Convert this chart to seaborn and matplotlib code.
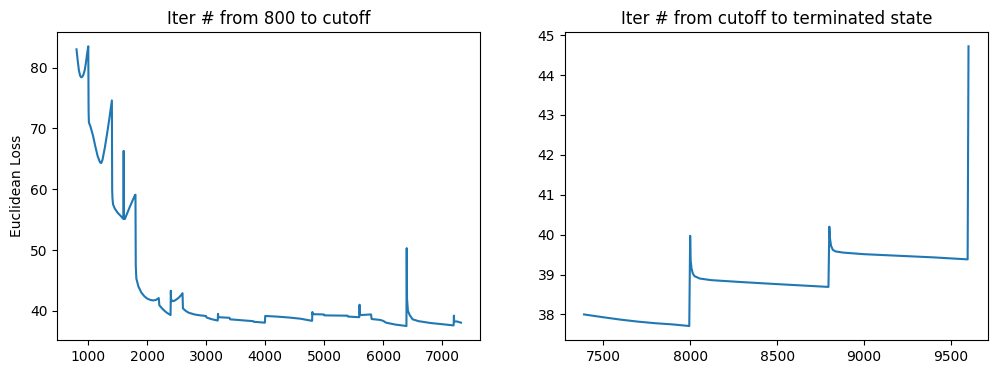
import matplotlib
matplotlib.use("Agg")
import matplotlib.pyplot as plt
import seaborn as sns
import pandas as pd

# Left panel: iterations 800 -> cutoff (breakpoints)
left_iter = [800, 820, 840, 860, 880, 900, 920, 940, 960, 980, 1000,
             1005, 1010, 1040, 1080, 1120, 1160, 1200, 1220, 1240, 1280, 1320, 1360, 1400,
             1405, 1410, 1420, 1450, 1500, 1550, 1595, 1600, 1605, 1620, 1700, 1790, 1800,
             1805, 1815, 1850, 1900, 1950, 2000, 2050, 2100, 2150, 2195, 2205, 2270, 2330, 2395,
             2400, 2405, 2410, 2450, 2500, 2550, 2598, 2605, 2650, 2700, 2800, 2900, 2995,
             3005, 3100, 3195, 3200, 3205, 3300, 3395, 3405, 3600, 3795, 3805, 3995,
             4000, 4200, 4400, 4600, 4795, 4800, 4805, 4995, 5005, 5395, 5405, 5595,
             5600, 5605, 5795, 5805, 5950, 6000, 6050, 6200, 6395,
             6400, 6405, 6420, 6450, 6500, 6600, 6800, 7000, 7195,
             7200, 7205, 7250, 7320]
left_loss = [83.0, 81.2, 79.6, 78.7, 78.4, 78.5, 78.9, 79.6, 80.8, 82.3, 83.5,
             73.0, 71.0, 70.2, 68.8, 67.0, 65.4, 64.4, 64.3, 64.8, 66.8, 69.2, 71.8, 74.6,
             60.0, 58.5, 57.5, 56.8, 56.1, 55.6, 55.1, 66.3, 55.3, 55.1, 57.0, 59.0, 59.1,
             47.5, 45.3, 44.0, 43.0, 42.4, 42.0, 41.8, 41.7, 41.8, 42.1, 40.9, 40.2, 39.7, 39.3,
             43.3, 41.5, 41.7, 41.6, 41.9, 42.3, 42.9, 40.4, 40.0, 39.7, 39.4, 39.25, 39.15,
             38.9, 38.6, 38.4, 39.5, 38.95, 38.9, 38.85, 38.6, 38.45, 38.3, 38.2, 38.05,
             39.15, 39.05, 38.9, 38.7, 38.35, 39.8, 39.45, 39.4, 39.25, 39.2, 39.05, 38.95,
             41.0, 39.3, 39.4, 38.65, 38.5, 38.35, 38.05, 37.75, 37.5,
             50.3, 42.0, 40.0, 39.3, 38.6, 38.3, 38.0, 37.8, 37.6,
             39.2, 38.25, 38.25, 38.05]

# Right panel: cutoff -> terminated state
right_iter = [7390, 7500, 7600, 7700, 7800, 7900, 7995,
              8000, 8003, 8008, 8015, 8025, 8055, 8120, 8300, 8500, 8795,
              8800, 8804, 8810, 8820, 8835, 8880, 9000, 9200, 9400, 9595,
              9600]
right_loss = [38.0, 37.93, 37.87, 37.82, 37.78, 37.75, 37.71,
              39.97, 39.35, 39.15, 39.03, 38.96, 38.9, 38.86, 38.81, 38.76, 38.69,
              40.2, 39.9, 39.72, 39.62, 39.58, 39.55, 39.51, 39.47, 39.43, 39.38,
              44.72]

left_df = pd.DataFrame({"iter": left_iter, "loss": left_loss})
right_df = pd.DataFrame({"iter": right_iter, "loss": right_loss})

fig, axes = plt.subplots(1, 2, figsize=(9.96, 3.74), dpi=100)
fig.subplots_adjust(left=0.0575, right=0.9917, bottom=0.0909, top=0.9136, wspace=0.2)

sns.lineplot(data=left_df, x="iter", y="loss", ax=axes[0], estimator=None, sort=False,
             color="#1f77b4", linewidth=1.5)
sns.lineplot(data=right_df, x="iter", y="loss", ax=axes[1], estimator=None, sort=False,
             color="#1f77b4", linewidth=1.5)

axes[0].set_title("Iter # from 800 to cutoff")
axes[0].set_xlabel("")
axes[0].set_ylabel("Euclidean Loss")
axes[1].set_title("Iter # from cutoff to terminated state")
axes[1].set_xlabel("")
axes[1].set_ylabel("")

axes[0].set_xticks([1000, 2000, 3000, 4000, 5000, 6000, 7000])
axes[0].set_yticks([40, 50, 60, 70, 80])
axes[1].set_xticks([7500, 8000, 8500, 9000, 9500])
axes[1].set_yticks([38, 39, 40, 41, 42, 43, 44, 45])

fig.savefig("out.png", dpi=100)
